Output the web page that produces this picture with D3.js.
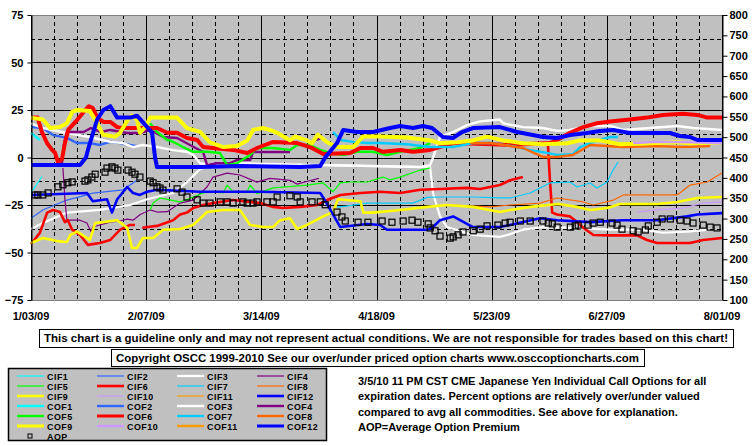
<!DOCTYPE html>
<html>
<head>
<meta charset="utf-8">
<script src="https://cdn.jsdelivr.net/npm/d3@7"></script>
<style>
  body { margin: 0; background: #fff; }
  text { font-family: "Liberation Sans", Arial, sans-serif; font-weight: bold; fill: #000; }
</style>
</head>
<body>
<svg id="chart" width="755" height="446"></svg>
<script>
// x values are days since 1/03/09, y values are % (left axis), AOP uses right axis
const xTickLabels = ["1/03/09", "2/07/09", "3/14/09", "4/18/09", "5/23/09", "6/27/09", "8/01/09"];
const xTickDays = [0, 35, 70, 105, 140, 175, 210];
const leftTicks = [75, 50, 25, 0, -25, -50, -75];
const rightTicks = [800, 750, 700, 650, 600, 550, 500, 450, 400, 350, 300, 250, 200, 150, 100];

const CIF1 = [[0,-18.7],[3.3,-10]];
const CIF2 = [[0,-32],[3.6,-27.6],[10.9,-22.4],[17,-19.7],[18.8,-18.7],[28,-17],[32.2,-12]];
const CIF3 = [[0,-37.6],[3.6,-34.5],[10.9,-29],[20.9,-27.6],[30.1,-25],[35.3,-22],[43.2,-18.7],[47.4,-13],[51.4,-6],[55.3,-4.5],[63.5,-3],[88.8,-4],[118.3,-5],[121.3,-5],[122.2,-19],[124.3,-31],[126.4,-36.6],[134.3,-40.8],[142.5,-41.8],[144.7,-40.8],[149.5,-38],[155.6,-36.6],[164.7,-37],[176,-38],[186,-38],[192,-39.6],[199.4,-39],[206.4,-38]];
const CIF4 = [[9.7,-5.5],[10.3,-22],[10.9,-33],[14.9,-33],[17,-34.5],[18.2,-39],[18.8,-36.6],[20.9,-35.5],[24.1,-34],[27.1,-33.4],[29.2,-32.4],[31,-33],[33.2,-30],[36.2,-27.6],[38.3,-28.7],[41.4,-28.5],[45.3,-24],[49.3,-22.4],[53.5,-15.5],[55.3,-10.3],[59.6,-8.2],[63.5,-9.2],[68.7,-13],[72.6,-11],[78.7,-12],[80.9,-14],[84,-12.5],[87.5,-11]];
const CIF5 = [[36.2,-27.6],[37.1,-24],[39.2,-21.3],[41.4,-22],[45.3,-23.4],[49.3,-20.8],[52.3,-18.7],[55.3,-18],[58.4,-18.7],[59.6,-14.5],[61.4,-18],[65.7,-18],[66.6,-14.5],[68.7,-19],[73.6,-16],[84,-14.5],[88.8,-13.4],[91.8,-18],[94,-13.4],[97,-12.9],[102.2,-12.9],[107,-10.3],[109.1,-11.8],[112.2,-10.3],[118.3,-6.6],[121.3,-5.5]];
const CIF6 = [[0,-45.5],[2.7,-39.7],[4.9,-29],[6.7,-27.6],[8.8,-28.7],[10.3,-34],[11.2,-33],[12.5,-38],[14.9,-40.8],[17.3,-46],[20.9,-45],[24.1,-43.4],[27.1,-38],[30.1,-35.5],[31.6,-35.5],[32.5,null],
  [33.8,-37],[38.3,-36],[43.2,-33],[45.3,-30],[47.4,-29],[49.3,-26.6],[52.3,-25],[55.3,-24],[61.4,-22.4],[69.6,-24],[73.6,-26],[76.6,-26.6],[81.8,-26],[87,-25],[90,-22.4],[94,-19.7],[100.1,-18.7],[106.1,-18],[112.2,-18.7],[118.3,-17],[124.3,-16.6],[132.5,-16],[136.5,-16.6],[142.5,-14.5],[145.6,-12],[149.5,-10.3],[153,null],
  [157.1,7],[157.7,-12],[158.4,-29],[159.9,-30],[163.8,-31],[166,-34],[167.8,-37],[170.9,-40.8],[176,-41],[184.2,-41],[187.2,-43.4],[190.3,-45],[200.3,-45],[204.3,-43.4],[210,-42.4]];
const CIF7 = [[93,-26],[94,-26],[102.2,-24],[108.2,-24],[116.1,-24],[120.4,-21],[124.3,-20.8],[134.3,-20.8],[142.5,-21.3],[145.6,-21.3],[151.7,-18.7],[157.7,-13.4],[163.8,-12.9],[166,-15.5],[169.9,-13.4],[172,-16],[175.1,-12.9],[176.9,-6.6],[178.4,-2.4]];
const CIF8 = [[128.3,-25],[139.6,-26],[145.6,-25],[154.7,-24],[159.9,-21.3],[167.8,-23.4],[170.9,-25],[177,-22.4],[180,-19.7],[196.4,-19.7],[200.3,-14.5],[205.5,-12.9],[210,-8.2]];
const CIF9 = [[0,-45],[3.6,-42.4],[7.9,-44],[10.9,-44.5],[11.9,-40.8],[14,-39],[17.9,-43.4],[19.5,-34.5],[21.9,-34],[26.2,-33],[29.2,-37],[30.7,-47.6],[32.2,-47.6],[34,-42.4],[37.1,-42.4],[40.2,-38],[45.3,-37.6],[49.3,-35.5],[53.5,-28.7],[58.4,-27.6],[63.5,-27.6],[66.6,-35.5],[70.5,-36.6],[73.6,-36.6],[75.7,-33],[78.7,-32],[80.9,-37.6],[83.9,-35.5],[88.8,-31],[91.8,-28.7],[93.3,-22],[100.1,-23],[101,-29],[104,-29],[112.2,-27.6],[120.4,-26],[126.4,-25],[134.3,-26],[142.5,-28.7],[145.6,-27.6],[151.7,-26],[160.2,-24.5],[166,-26],[170,-27.6],[175.1,-26.6],[179,-24.5],[190.3,-24.5],[196.4,-23.4],[202.5,-21.3],[210,-20.8]];
const CIF10 = [[184.2,-28.7],[190.3,-27.6],[198.2,-26.6],[204.3,-24],[210,-23.4]];
const CIF11 = [];
const CIF12 = [[0,-19.7],[17,-18.7],[18.8,-23],[23.1,-22],[24.6,-29],[26.2,-22],[29.2,-15.5],[31,-18.7],[33.1,-19.7],[35.3,-18],[38.3,-17],[51.4,-18],[69.6,-18],[87.9,-18.7],[88.8,-21],[94,-36.6],[102.2,-35],[106.1,-35.5],[108.2,-38],[120.4,-38],[122.2,-36.6],[124.3,-33],[128.3,-31],[130.4,-33],[134.3,-36.6],[142.5,-36.6],[145.6,-35.5],[149.5,-34],[154.7,-32],[159.9,-33],[169.9,-34],[179.9,-33],[190.3,-33],[199.4,-31],[202.5,-30],[210,-29.3]];

const COF1 = [[0,12.9],[2.7,9.2]];
const COF2 = [[0,16],[3.6,15.5],[6.7,11.8],[10.9,10.3],[14,7.6],[17.9,7.6],[20.9,6.6],[24.1,8.2],[27.1,7.6],[30.1,6.6],[32.2,6]];
const COF3 = [[0,18],[3.6,15.5],[10.9,12.9],[17.9,10.8],[24.1,8.2],[28,7.6],[31,5.5],[34,6.6],[38.3,5.5],[43.2,3.9],[47.4,3],[49.3,1.3],[51.4,-3],[55.3,-4],[63.5,-4],[88.8,-4],[104,-4.5],[118.3,-5],[121.3,-4],[122.2,0],[124.3,10.8],[128.3,13.4],[132.5,17],[136.5,19],[142.5,20],[143.5,18],[149.5,16],[155.6,15.5],[159.9,14],[163.8,14.5],[169.9,16.6],[176,16.6],[180,14.5],[188.1,15.5],[196.4,16.6],[201.2,15.5],[210,14.5]];
const COF4 = [[9.4,-3],[10,7],[10.9,13.4],[16,13.4],[18.2,15.5],[21.3,13.4],[24.1,14.5],[29.2,12.9],[33.2,12.9],[36.2,14.5],[40.2,10.8],[44.4,10.3],[48.3,6.6],[52.3,2.9],[53.5,-4],[56.5,-3],[60.5,-3],[62.6,-1.3],[66.6,-1.3],[67.5,2.9],[78.7,2.9],[82,null],[86,9],[88,10]];
const COF5 = [[36.2,18],[38.3,13.4],[41.4,9.2],[42.3,9],[46.2,5.5],[49.3,3],[53.5,3],[57.4,2.4],[59.6,-4],[62.6,-3],[66.6,1.3],[68.7,5],[73.6,5],[78.7,4],[80.9,6.6],[84.8,6.6],[87.9,4],[90.9,2.4],[94.9,1.3],[99.1,3],[104,3],[108.2,1.3],[112.2,3],[118.3,5],[121.3,7.6]];
const COF6 = [[0,21],[2,21],[3.3,13.5],[4.9,7.5],[6.4,4],[7.3,2.5],[8.2,-2.4],[9.4,-1],[10.3,7.5],[11.3,14.5],[14,19.7],[16,24],[17.6,27],[18.8,26],[20.1,21],[22,18.7],[24.1,18.7],[26.2,16],[28,15.5],[33.2,15.5],[38.3,15.5],[41.4,13],[44.4,13],[47.4,10.3],[50.5,9.2],[52.3,5.5],[55.3,5],[61.4,4],[65.7,2.4],[68.7,5],[73.6,8.2],[80.9,7.6],[84.8,5.5],[88.8,1.8],[97,2.4],[100.1,5],[104,5],[107,3],[112.2,4],[116.1,3],[121.3,4],[124.3,5.5],[128.3,7.6],[140.4,7],[145.6,6.6],[157.7,7.6],[159.9,9.2],[163.8,13],[167.8,16],[172,18],[176,19],[182,20],[187.2,21],[192,22.4],[198.2,23],[202.5,22.4],[205.5,21],[210,21]];
const COF7 = [[91.8,13.4],[94,9.2],[97.9,8.2],[102.2,7.6],[106.1,7.6],[114.3,7],[121.3,5.5],[128.3,5.5],[134.3,7.6],[140.4,7.6],[147.7,5.5],[151.7,3.9],[156.8,2.4],[159.9,1.3],[164.7,1.8],[166.9,5.5],[169.9,7.6],[172.9,9.2],[176,10.8],[178.4,10.8]];
const COF8 = [[133.4,7.6],[139.6,7.6],[149.5,5],[155.6,0.3],[159.9,0.3],[164.7,1.3],[169.9,6.6],[180,5.5],[190.3,6],[198.2,5.5],[206.4,6]];
const COF9 = [[0,21],[3.6,20],[5.8,15.5],[8.8,16],[10.9,18],[12.5,24],[14,25],[17.9,24.5],[20.1,18],[21.9,12],[25.5,11],[27.1,13],[29.5,20],[30.7,22],[32.2,20],[33.1,13],[34.7,16],[36.2,21],[41.3,21],[44.4,21],[47.4,15.5],[51.4,13.5],[54.4,8],[58.4,5.5],[62.6,6],[65.7,9],[67.5,14.5],[70.5,15.5],[72.6,14.5],[74.8,13],[78.7,9],[80.2,11],[83.9,9],[85.4,7.5],[87.2,12],[90,8],[93,5.5],[97.9,5.5],[100.9,11],[106.1,11],[114.3,10.5],[121.3,9],[124.3,7.5],[129.5,8],[134.3,9],[138.6,11],[143.5,9],[149.5,7.5],[155.6,7],[162.9,7.5],[166.9,9],[172.9,9],[179,7],[188.1,7.5],[196.4,8],[200.3,7.5],[210,8]];
const COF10 = [[183,7.6],[190.3,8.2],[200.3,8],[210,7.6]];
const COF11 = [];
const COF12 = [[0,-4],[14.9,-4],[16.7,0],[17.3,4],[20.1,20],[22,25],[24.1,27],[26.2,21],[30.1,21],[32.2,22],[35.3,16],[36.8,13],[37.7,0],[38.3,-5],[51.4,-5],[63.5,-4.5],[81.8,-5],[87.9,-4.5],[89.4,0],[93,7.6],[94.9,14.5],[99.1,13.4],[104,13.4],[109.1,15.5],[112.2,16.6],[116.1,15.5],[119.1,16.6],[121.9,15.5],[125.2,10.8],[128.3,10.3],[131,13.4],[134.3,15.5],[142.5,16],[147.7,13.4],[152.5,11.8],[155.6,10.8],[159.9,10.3],[163.8,11.8],[169,12.9],[172.9,13.9],[176.9,14.5],[182,12.9],[194.2,12.9],[197.2,11.3],[200.3,10.8],[202.5,9.2],[210,9.2]];

const AOP = [[1.2,358],[2.1,358],[3.6,358],[5.2,363],[8.2,378],[9.7,383],[11.2,388],[12.5,390],[16.4,392],[17.3,395],[18.5,402],[19.5,409],[22.5,414],[23.1,424],[24.6,427],[25.5,424],[26.4,419],[29.5,419],[30.7,414],[31.6,409],[33.1,402],[36.2,392],[37.1,388],[38.3,378],[39.2,375],[40.1,370],[44.4,373],[45.9,365],[47.4,353],[50.5,346],[52.3,338],[54.4,338],[57.5,341],[59.6,341],[61.4,338],[64.4,341],[65.7,338],[67.5,338],[68.7,341],[71.7,341],[73.6,341],[74.8,353],[78.7,356],[80.9,353],[81.8,341],[85.4,341],[87.9,341],[89.4,334],[93,316],[94.5,304],[95.5,294],[99.4,291],[102.4,291],[106.7,294],[109.7,291],[113.1,294],[115.8,296],[117.6,291],[120.7,287],[121.3,277],[122.8,270],[124.3,257],[127.4,252],[128.3,255],[129.8,260],[131.3,267],[134.4,270],[136.5,274],[138.6,282],[141.9,284],[144.1,289],[145.6,291],[148.7,294],[151.7,294],[155.6,294],[157.2,289],[158.4,287],[159.9,279],[163.9,279],[165.4,282],[166.3,284],[169.3,284],[170.8,289],[173,291],[176.6,289],[178.1,284],[179.6,274],[183,270],[184.5,267],[186.7,272],[187.6,282],[190.3,291],[191.8,299],[194.3,299],[197.3,296],[199.4,294],[201.2,289],[204.3,284],[206.4,279],[208.5,277]];

const legendNames = ["CIF1","CIF2","CIF3","CIF4","CIF5","CIF6","CIF7","CIF8","CIF9","CIF10","CIF11","CIF12",
                     "COF1","COF2","COF3","COF4","COF5","COF6","COF7","COF8","COF9","COF10","COF11","COF12"];
const palette = ["#00FFFF","#3366FF","#FFFFFF","#800080","#00FF00","#FF0000","#00CCFF","#FF6600","#FFFF00","#CC99FF","#FF9900","#0000FF"];

const disclaimer = "This chart is a guideline only and may not represent actual conditions. We are not responsible for trades based on this chart!";
const copyright = "Copyright OSCC 1999-2010 See our over/under priced option charts www.osccoptioncharts.com";
const notes = ["3/5/10 11 PM CST CME Japanese Yen Individual Call Options for all",
               "expiration dates. Percent options are relatively over/under valued",
               "compared to avg all commodities. See above for explanation.",
               "AOP=Average Option Premium"];

const seriesData = [CIF1,CIF2,CIF3,CIF4,CIF5,CIF6,CIF7,CIF8,CIF9,CIF10,CIF11,CIF12,
                    COF1,COF2,COF3,COF4,COF5,COF6,COF7,COF8,COF9,COF10,COF11,COF12];

function lineWidth(i) {
  const n = i % 12;
  const heavy = n === 5 || n === 8 || n === 11;
  if (i < 12) return heavy ? 2.6 : (n === 2 ? 2.2 : 1.2);
  return heavy ? 4 : 2.4;
}

const svg = d3.select("#chart");
const plotL = 31, plotR = 722, plotT = 15, plotB = 300;

const x = d3.scaleLinear().domain([0, 210]).range([plotL, plotR]);
const y = d3.scaleLinear().domain([-75, 75]).range([plotB, plotT]);
const yR = d3.scaleLinear().domain([100, 800]).range([plotB, plotT]);

svg.append("rect").attr("x", plotL).attr("y", plotT).attr("width", plotR - plotL).attr("height", plotB - plotT).attr("fill", "#C0C0C0");

// grid
const g = svg.append("g").attr("shape-rendering", "crispEdges");
d3.range(-75, 75.01, 12.5).forEach(v => {
  const major = v % 25 === 0;
  g.append("line").attr("x1", plotL).attr("x2", plotR).attr("y1", Math.round(y(v)) + 0.5).attr("y2", Math.round(y(v)) + 0.5)
    .attr("stroke", "#000").attr("stroke-width", 1).attr("stroke-dasharray", major ? null : "4,3");
});
d3.range(0, 211, 7).forEach(d => {
  const major = d % 35 === 0;
  g.append("line").attr("y1", plotT).attr("y2", plotB).attr("x1", Math.round(x(d)) + 0.5).attr("x2", Math.round(x(d)) + 0.5)
    .attr("stroke", "#000").attr("stroke-width", 1).attr("stroke-dasharray", major ? null : "4,3");
});

// frame
svg.append("line").attr("x1", plotL).attr("x2", plotR).attr("y1", plotT + 0.5).attr("y2", plotT + 0.5).attr("stroke", "#808080");
svg.append("line").attr("x1", plotL).attr("x2", plotR).attr("y1", plotB + 0.5).attr("y2", plotB + 0.5).attr("stroke", "#808080");

// series
const line = d3.line().defined(d => d[1] !== null).x(d => x(d[0])).y(d => y(d[1]));
const plot = svg.append("g");
seriesData.forEach((data, i) => {
  if (!data.length) return;
  plot.append("path").datum(data).attr("d", line).attr("fill", "none")
    .attr("stroke", palette[i % 12]).attr("stroke-width", lineWidth(i)).attr("stroke-linejoin", "round");
});

// AOP squares
plot.selectAll(".aop").data(AOP).enter().append("rect").attr("class", "aop")
  .attr("x", d => x(d[0]) - 3).attr("y", d => yR(d[1]) - 3).attr("width", 6).attr("height", 6)
  .attr("fill", "none").attr("stroke", "#000").attr("stroke-width", 1.2);

// axes
const axL = svg.append("g").attr("transform", `translate(${plotL + 0.5},0)`)
  .call(d3.axisLeft(y).tickValues(leftTicks).tickSize(4).tickSizeOuter(0).tickFormat(d3.format("d")));
const axR = svg.append("g").attr("transform", `translate(${plotR + 0.5},0)`)
  .call(d3.axisRight(yR).tickValues(rightTicks).tickSize(5).tickSizeOuter(0));
[axL, axR].forEach(a => {
  a.select(".domain").attr("stroke", "#000");
  a.selectAll("text").attr("font-size", 11).attr("font-family", "Liberation Sans, Arial, sans-serif").attr("font-weight", "bold");
});
axL.selectAll("text").attr("x", -8);
axR.selectAll("text").attr("x", 7);

// x tick labels
svg.selectAll(".xlab").data(xTickDays).enter().append("text").attr("class", "xlab")
  .attr("x", d => x(d)).attr("y", 320).attr("font-size", 11).attr("text-anchor", "middle")
  .text((d, i) => xTickLabels[i])
  .each(function () {
    const b = this.getBBox();
    if (b.x < 3) d3.select(this).attr("x", +d3.select(this).attr("x") + (3 - b.x));
  });

// disclaimer boxes
function box(x0, y0, w, h, txt) {
  svg.append("rect").attr("x", x0 + 0.5).attr("y", y0 + 0.5).attr("width", w).attr("height", h)
    .attr("fill", "#fff").attr("stroke", "#000");
  svg.append("text").attr("x", x0 + w / 2).attr("y", y0 + h / 2 + 4).attr("text-anchor", "middle")
    .attr("font-size", 11.5).attr("textLength", w - 10).attr("lengthAdjust", "spacingAndGlyphs").text(txt);
}
box(39, 329, 694, 18, disclaimer);
box(111, 349, 533, 17, copyright);

// legend
const lg = svg.append("g");
lg.append("rect").attr("x", 8.5).attr("y", 368.5).attr("width", 318).attr("height", 72)
  .attr("fill", "#C0C0C0").attr("stroke", "#000").attr("stroke-width", 1.5);
legendNames.forEach((name, i) => {
  const col = i % 4, row = Math.floor(i / 4);
  const lx = 17 + col * 80, ly = 376 + row * 10;
  lg.append("line").attr("x1", lx).attr("x2", lx + 27).attr("y1", ly).attr("y2", ly)
    .attr("stroke", palette[i % 12]).attr("stroke-width", Math.min(lineWidth(i), 3));
  lg.append("text").attr("x", lx + 30).attr("y", ly + 3.5).attr("font-size", 8.9)
    .attr("letter-spacing", 0.5).text(name);
});
lg.append("rect").attr("x", 28).attr("y", 434).attr("width", 4).attr("height", 4).attr("fill", "none").attr("stroke", "#000");
lg.append("text").attr("x", 47).attr("y", 439.5).attr("font-size", 8.9).attr("letter-spacing", 0.5).text("AOP");

// notes
notes.forEach((t, i) => {
  svg.append("text").attr("x", 358).attr("y", 385 + i * 15.3).attr("font-size", 11).text(t);
});
</script>
</body>
</html>
